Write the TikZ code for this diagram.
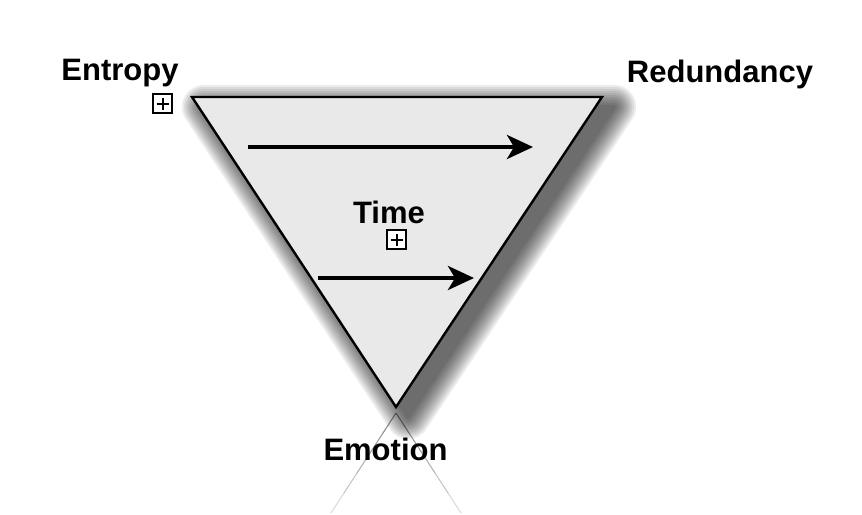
\documentclass[tikz,border=0pt]{standalone}
\usepackage{fontspec}
\setmainfont{Liberation Sans}
\usetikzlibrary{arrows.meta,calc}
\begin{document}
\begin{tikzpicture}[x=1pt,y=-1pt,
  lbl/.style={font=\fontsize{31}{35}\selectfont\bfseries, anchor=base, inner sep=0pt},
  plusbox/.style={draw=black, line width=1.8pt, fill=white, minimum size=19pt, inner sep=0pt, path picture={
      \draw[line width=2pt] ([xshift=-6pt]path picture bounding box.center) -- ([xshift=6pt]path picture bounding box.center);
      \draw[line width=2pt] ([yshift=-6pt]path picture bounding box.center) -- ([yshift=6pt]path picture bounding box.center);}},
  flow/.style={line width=4pt, -{Stealth[length=26pt,width=24pt,inset=7pt]}},
]
\useasboundingbox (0,0) rectangle (862,514);
\coordinate (tl) at (192,97);
\coordinate (tr) at (602,97);
\coordinate (bt) at (396,407);
% reflection
\coordinate (rt) at (396,413);
\foreach \i/\o in {0/0.45,1/0.38,2/0.3,3/0.22,4/0.14}{
  \draw[black, line width=1.1pt, opacity=\o]
    ($(rt)+(-13*\i,20*\i)$) -- ($(rt)+(-13*\i-13,20*\i+20)$)
    ($(rt)+(13*\i,20*\i)$) -- ($(rt)+(13*\i+13,20*\i+20)$);
}
% shadow (soft)
\coordinate (stl) at ([shift={(12,10)}]tl);
\coordinate (str) at ([shift={(12,10)}]tr);
\coordinate (sbt) at ([shift={(12,10)}]bt);
\foreach \r in {2,4,...,22}{
  \begin{scope}[transparency group, opacity=0.075]
    \filldraw[black, line width=2*\r pt, line join=round] (stl) -- (str) -- (sbt) -- cycle;
  \end{scope}
}
% triangle
\draw[line width=2.4pt, fill={rgb,255:red,233;green,233;blue,233}, line join=miter] (tl) -- (tr) -- (bt) -- cycle;
% arrows
\coordinate (a1s) at (248,147);
\coordinate (a1e) at (533,147);
\coordinate (a2s) at (318,278);
\coordinate (a2e) at (474,278);
\draw[flow] (a1s) -- (a1e);
\draw[flow] (a2s) -- (a2e);
% labels
\node[lbl] (entropy) at (120,80) {Entropy};
\node[lbl] (redund) at (720,82) {Redundancy};
\node[lbl] (time) at (389,223) {Time};
\node[lbl] (emotion) at (385.5,460) {Emotion};
\node[plusbox] (p1) at (162.5,103.5) {};
\node[plusbox] (p2) at (396.5,239.5) {};
\end{tikzpicture}
\end{document}
